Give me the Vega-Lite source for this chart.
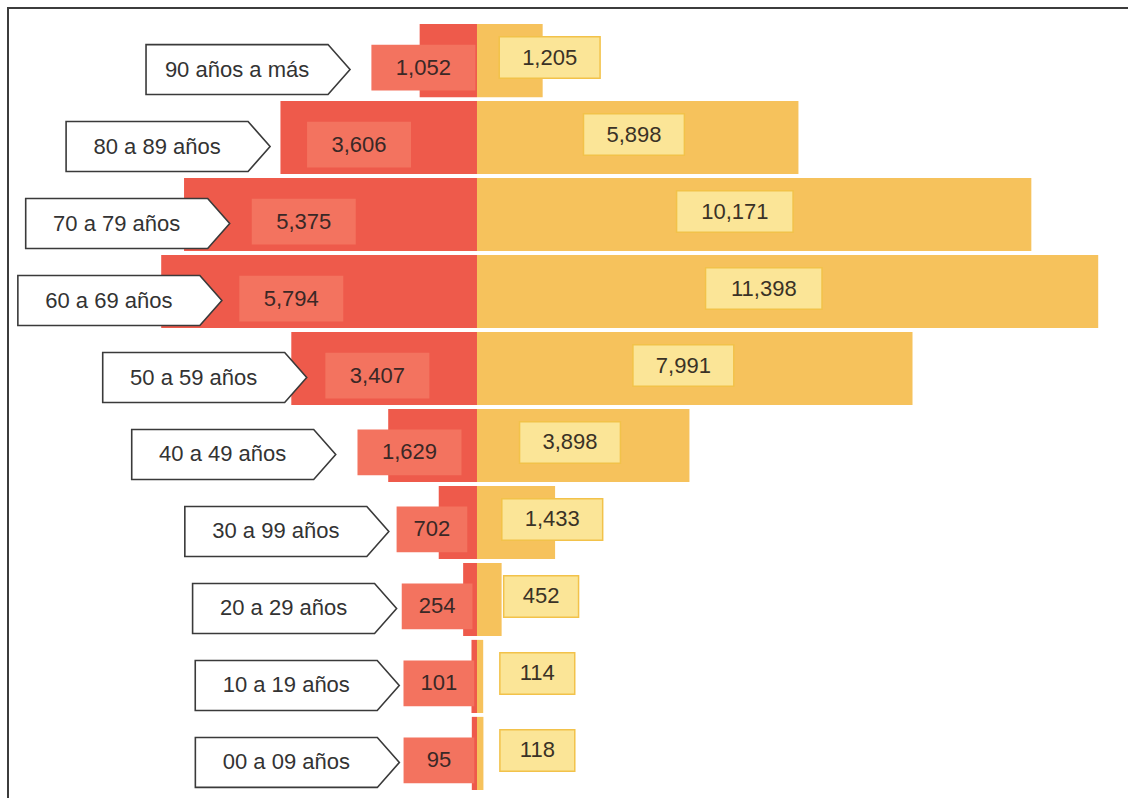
{
  "$schema": "https://vega.github.io/schema/vega-lite/v6.json",
  "width": 1128,
  "height": 798,
  "autosize": {"type": "fit", "contains": "padding"},
  "padding": {"left": 8, "top": 8, "right": -4, "bottom": -4},
  "background": "white",
  "view": {"stroke": "#3c3c3c", "strokeWidth": 2},
  "config": {"font": "Liberation Sans"},
  "data": {
    "values": [
      {"edad": "90 años a más", "sexo": "Hombres", "poblacion": 1052},
      {"edad": "90 años a más", "sexo": "Mujeres", "poblacion": 1205},
      {"edad": "80 a 89 años", "sexo": "Hombres", "poblacion": 3606},
      {"edad": "80 a 89 años", "sexo": "Mujeres", "poblacion": 5898},
      {"edad": "70 a 79 años", "sexo": "Hombres", "poblacion": 5375},
      {"edad": "70 a 79 años", "sexo": "Mujeres", "poblacion": 10171},
      {"edad": "60 a 69 años", "sexo": "Hombres", "poblacion": 5794},
      {"edad": "60 a 69 años", "sexo": "Mujeres", "poblacion": 11398},
      {"edad": "50 a 59 años", "sexo": "Hombres", "poblacion": 3407},
      {"edad": "50 a 59 años", "sexo": "Mujeres", "poblacion": 7991},
      {"edad": "40 a 49 años", "sexo": "Hombres", "poblacion": 1629},
      {"edad": "40 a 49 años", "sexo": "Mujeres", "poblacion": 3898},
      {"edad": "30 a 99 años", "sexo": "Hombres", "poblacion": 702},
      {"edad": "30 a 99 años", "sexo": "Mujeres", "poblacion": 1433},
      {"edad": "20 a 29 años", "sexo": "Hombres", "poblacion": 254},
      {"edad": "20 a 29 años", "sexo": "Mujeres", "poblacion": 452},
      {"edad": "10 a 19 años", "sexo": "Hombres", "poblacion": 101},
      {"edad": "10 a 19 años", "sexo": "Mujeres", "poblacion": 114},
      {"edad": "00 a 09 años", "sexo": "Hombres", "poblacion": 95},
      {"edad": "00 a 09 años", "sexo": "Mujeres", "poblacion": 118}
    ]
  },
  "encoding": {
    "y": {
      "field": "edad",
      "type": "nominal",
      "sort": ["90 años a más", "80 a 89 años", "70 a 79 años", "60 a 69 años", "50 a 59 años", "40 a 49 años", "30 a 99 años", "20 a 29 años", "10 a 19 años", "00 a 09 años"],
      "scale": {"range": [16, 782], "paddingInner": 0.05, "paddingOuter": 0},
      "axis": null
    }
  },
  "layer": [
    {
      "transform": [{"filter": "datum.sexo === 'Hombres'"}],
      "mark": {"type": "bar", "color": "#EE5A4B"},
      "encoding": {
        "x": {"field": "poblacion", "type": "quantitative", "scale": {"domain": [-12018, 8605], "reverse": true, "nice": false}, "axis": null}
      }
    },
    {
      "transform": [{"filter": "datum.sexo === 'Mujeres'"}],
      "mark": {"type": "bar", "color": "#F6C25C"},
      "encoding": {
        "x": {"field": "poblacion", "type": "quantitative", "scale": {"domain": [-8605, 12018], "nice": false}, "axis": null}
      }
    },
    {
      "transform": [{"filter": "datum.sexo === 'Hombres'"}],
      "mark": {"type": "point", "filled": true, "fill": "#F3735F", "strokeWidth": 0, "opacity": 1, "size": 10816, "yOffset": 7},
      "encoding": {
        "x": {"field": "poblacion", "type": "quantitative", "scale": {"domain": [0, 700, 1600, 3400, 3650, 5400], "range": [432, 424, 402, 370, 347, 295]}, "axis": null},
        "shape": {"condition": {"test": "datum.poblacion >= 1000", "value": "M-1,-0.44H1V0.44H-1Z"}, "value": "M-0.68,-0.44H0.68V0.44H-0.68Z"}
      }
    },
    {
      "transform": [{"filter": "datum.sexo === 'Hombres'"}],
      "mark": {"type": "text", "fontSize": 22, "color": "#3a2826", "align": "center", "baseline": "middle", "dy": 7},
      "encoding": {
        "x": {"field": "poblacion", "type": "quantitative", "scale": {"domain": [0, 700, 1600, 3400, 3650, 5400], "range": [432, 424, 402, 370, 347, 295]}, "axis": null},
        "text": {"field": "poblacion", "type": "quantitative", "format": ","}
      }
    },
    {
      "transform": [{"filter": "datum.sexo === 'Mujeres'"}],
      "mark": {"type": "point", "filled": true, "fill": "#FBE597", "stroke": "#F2C24A", "strokeWidth": 1.5, "opacity": 1, "size": 10816, "yOffset": -3},
      "encoding": {
        "x": {"field": "poblacion", "type": "quantitative", "scale": {"domain": [0, 1500, 3900, 5900, 12000], "range": [528, 545, 562, 626, 770]}, "axis": null},
        "shape": {
          "condition": [
            {"test": "datum.poblacion >= 10000", "value": "M-1.12,-0.4H1.12V0.4H-1.12Z"},
            {"test": "datum.poblacion >= 1000", "value": "M-0.97,-0.4H0.97V0.4H-0.97Z"}
          ],
          "value": "M-0.72,-0.4H0.72V0.4H-0.72Z"
        }
      }
    },
    {
      "transform": [{"filter": "datum.sexo === 'Mujeres'"}],
      "mark": {"type": "text", "fontSize": 22, "color": "#3a3226", "align": "center", "baseline": "middle", "dy": -3},
      "encoding": {
        "x": {"field": "poblacion", "type": "quantitative", "scale": {"domain": [0, 1500, 3900, 5900, 12000], "range": [528, 545, 562, 626, 770]}, "axis": null},
        "text": {"field": "poblacion", "type": "quantitative", "format": ","}
      }
    },
    {
      "transform": [{"filter": "datum.sexo === 'Hombres'"}],
      "mark": {"type": "point", "filled": true, "fill": "white", "stroke": "#3a3a3a", "strokeWidth": 1.6, "opacity": 1, "size": 41616, "yOffset": 9, "shape": "M-1,-0.245H0.784L1,0L0.784,0.245H-1Z"},
      "encoding": {
        "x": {"field": "poblacion", "type": "quantitative", "scale": {"domain": [0, 750, 1100, 3400, 3650, 6000], "range": [291, 278, 234, 198, 152, 108]}, "axis": null}
      }
    },
    {
      "transform": [{"filter": "datum.sexo === 'Hombres'"}],
      "mark": {"type": "text", "fontSize": 22, "color": "#333333", "align": "center", "baseline": "middle", "dx": -11, "dy": 9},
      "encoding": {
        "x": {"field": "poblacion", "type": "quantitative", "scale": {"domain": [0, 750, 1100, 3400, 3650, 6000], "range": [291, 278, 234, 198, 152, 108]}, "axis": null},
        "text": {"field": "edad", "type": "nominal"}
      }
    }
  ],
  "resolve": {"scale": {"x": "independent"}}
}
